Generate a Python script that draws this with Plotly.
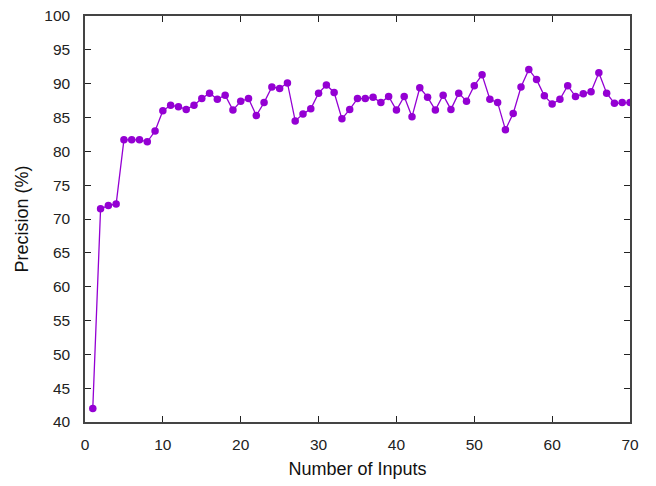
import plotly.graph_objects as go

inputs = list(range(1, 71))
precision = [42.0, 71.5, 72.0, 72.2, 81.7, 81.7, 81.7, 81.4, 83.0, 86.0,
             86.8, 86.6, 86.2, 86.8, 87.8, 88.6, 87.7, 88.3, 86.1, 87.4,
             87.8, 85.3, 87.2, 89.5, 89.3, 90.1, 84.5, 85.5, 86.3, 88.6,
             89.8, 88.7, 84.8, 86.2, 87.8, 87.8, 88.0, 87.2, 88.1, 86.1,
             88.1, 85.1, 89.4, 88.0, 86.1, 88.3, 86.2, 88.6, 87.4, 89.7,
             91.3, 87.7, 87.2, 83.2, 85.6, 89.5, 92.1, 90.6, 88.2, 87.0,
             87.7, 89.7, 88.1, 88.5, 88.8, 91.6, 88.6, 87.1, 87.2, 87.2]

x_ticks = [0, 10, 20, 30, 40, 50, 60, 70]
y_ticks = [40, 45, 50, 55, 60, 65, 70, 75, 80, 85, 90, 95, 100]

color = "#9400D3"
font_family = "Liberation Sans, Arial, sans-serif"

fig = go.Figure()
fig.add_trace(go.Scatter(
    x=inputs, y=precision, mode="lines+markers",
    line=dict(color=color, width=1.3),
    marker=dict(color=color, size=7.5, symbol="circle"),
    showlegend=False,
))

axis_common = dict(
    showgrid=False, zeroline=False, showline=True, linecolor="#444444",
    linewidth=1.5, mirror="allticks", ticks="inside", ticklen=6,
    tickcolor="#222222", tickwidth=1,
    tickfont=dict(family=font_family, size=15.5, color="#222222"),
    title_font=dict(family=font_family, size=18, color="#111111"),
)

fig.update_xaxes(range=[0, 70], tickvals=x_ticks, title_text="Number of Inputs",
                 ticklabelstandoff=8, title_standoff=10, **axis_common)
fig.update_yaxes(range=[40, 100], tickvals=y_ticks, title_text="Precision (%)",
                 ticklabelstandoff=10, title_standoff=11, **axis_common)

fig.update_layout(
    width=656, height=486,
    margin=dict(l=85, r=26, t=16, b=64, autoexpand=False),
    paper_bgcolor="white", plot_bgcolor="white",
)

fig.write_html("out.html")
